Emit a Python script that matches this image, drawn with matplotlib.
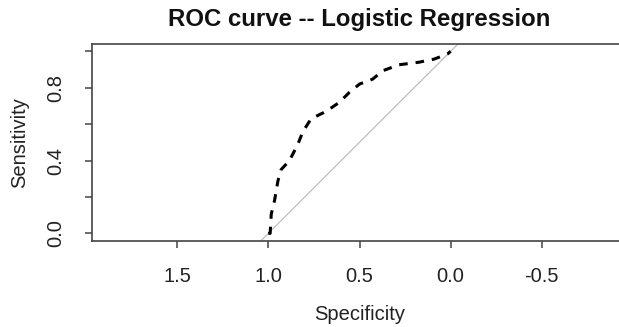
import matplotlib
matplotlib.use("Agg")
import matplotlib.pyplot as plt

plt.rcParams["font.family"] = ["Liberation Sans", "DejaVu Sans"]

# ROC points for the logistic regression model
specificity = [1.0, 0.99, 0.984, 0.966, 0.947, 0.93, 0.884, 0.838, 0.81, 0.765, 0.683,
               0.61, 0.556, 0.50, 0.428, 0.373, 0.283, 0.173, 0.091, 0.018, 0.0]
sensitivity = [0.0, 0.0, 0.106, 0.18, 0.29, 0.35, 0.40, 0.49, 0.56, 0.63, 0.67,
               0.72, 0.774, 0.82, 0.847, 0.893, 0.926, 0.94, 0.957, 0.985, 1.0]

x_ticks = [1.5, 1.0, 0.5, 0.0, -0.5]
x_labels = ["1.5", "1.0", "0.5", "0.0", "-0.5"]
y_ticks = [0.0, 0.2, 0.4, 0.6, 0.8, 1.0]
y_labels = ["0.0", "", "0.4", "", "0.8", ""]

W, H = 619, 327
fig = plt.figure(figsize=(W / 100, H / 100), dpi=100)
ax = fig.add_axes([92 / W, 86.3 / H, 535 / W, 196.7 / H])

# chance line, spans the whole plot region
ax.axline((1, 0), (0, 1), color="#bebebe", lw=0.9, zorder=1)
ax.plot(specificity, sensitivity, color="black", lw=2.2, linestyle=(0, (2.8, 2.6)), zorder=2)

ax.set_xlim(1.967, -0.967)
ax.set_ylim(-0.04, 1.04)

ax.set_xticks(x_ticks)
ax.set_xticklabels(x_labels)
ax.set_yticks(y_ticks)
ax.set_yticklabels(y_labels, rotation=90, va="center")

for s in ax.spines.values():
    s.set_color("#444444")
    s.set_linewidth(1.2)
ax.tick_params(length=5, width=1.1, color="#444444", labelsize=14.5,
               labelcolor="#222222", pad=14)

ax.set_xlabel("Specificity", fontsize=14.5, color="#222222", va="baseline")
ax.xaxis.set_label_coords(0.5, -0.403)
ax.set_ylabel("Sensitivity", fontsize=14.5, color="#222222", va="center")
ax.yaxis.set_label_coords(-0.1355, 0.5)

ax.set_title("ROC curve -- Logistic Regression", fontsize=17.3, fontweight="bold",
             color="#111111", y=1.0915, pad=0)

fig.savefig("out.png", dpi=100)
